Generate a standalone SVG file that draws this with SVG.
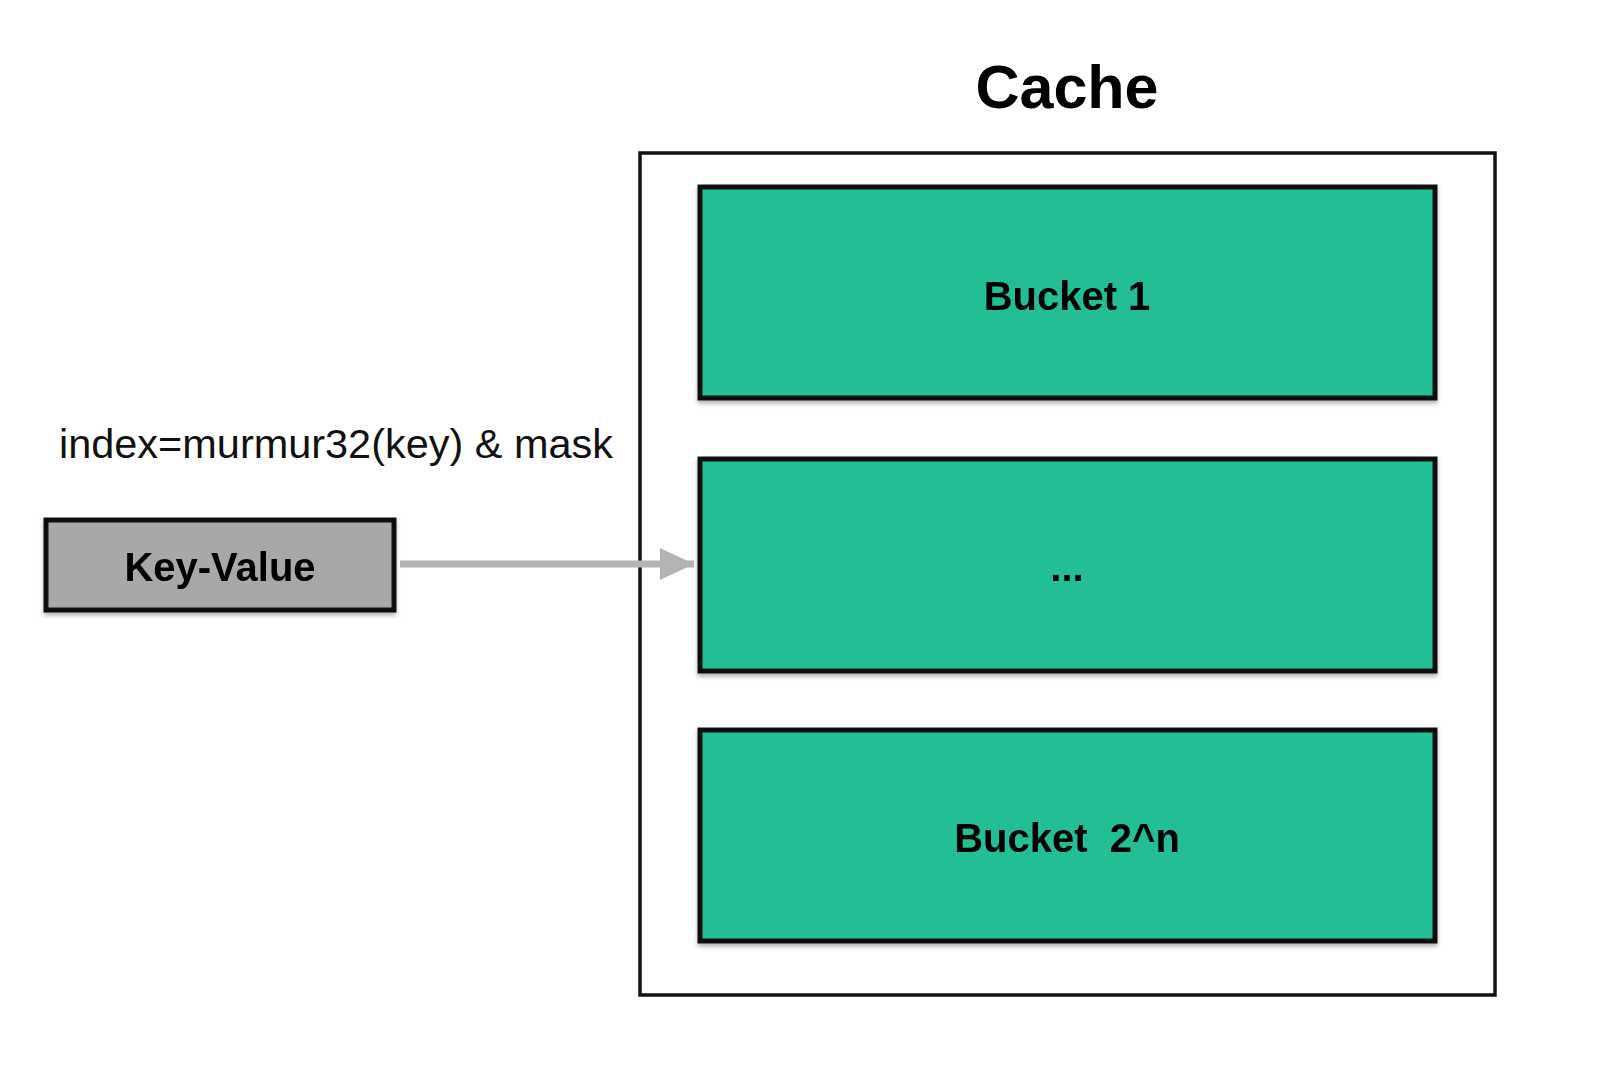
<svg xmlns="http://www.w3.org/2000/svg" width="1620" height="1068" viewBox="0 0 1620 1068">
  <style>
    .title { font-family: "Liberation Sans", Arial, sans-serif; font-weight: bold; font-size: 61px; fill: #000; }
    .lbl { font-family: "Liberation Sans", Arial, sans-serif; font-weight: bold; font-size: 40px; fill: #000; }
    .formula { font-family: "Liberation Sans", Arial, sans-serif; font-size: 40px; fill: #111; }
    .bucket { fill: #21bf97; stroke: #111; stroke-width: 5; }
    .kv { fill: #a8a8a8; stroke: #111; stroke-width: 5; }
    .outer { fill: #fff; stroke: #111; stroke-width: 3.5; }
    .conn { stroke: #b3b3b3; stroke-width: 7; fill: none; }
  </style>
  <defs>
    <filter id="shadow" x="-5%" y="-5%" width="110%" height="115%">
      <feDropShadow dx="0" dy="3" stdDeviation="2" flood-color="#000" flood-opacity="0.3"/>
    </filter>
    <marker id="arrow" markerUnits="userSpaceOnUse" markerWidth="40" markerHeight="40" refX="36" refY="18" orient="auto">
      <path d="M2,2 L36,18 L2,34 Z" fill="#b3b3b3"/>
    </marker>
  </defs>
  <rect width="1620" height="1068" fill="#fff"/>

  <g id="title">
    <text class="title" x="1067" y="108" text-anchor="middle">Cache</text>
  </g>

  <g id="cache">
    <rect class="outer" x="640" y="153" width="855" height="842"/>
  </g>

  <g id="bucket-1" filter="url(#shadow)">
    <rect class="bucket" x="700" y="187" width="735" height="211"/>
    <text class="lbl" x="1067" y="310" text-anchor="middle">Bucket 1</text>
  </g>

  <g id="bucket-mid" filter="url(#shadow)">
    <rect class="bucket" x="700" y="459" width="735" height="212"/>
    <text class="lbl" x="1067" y="581" text-anchor="middle">...</text>
  </g>

  <g id="bucket-2n" filter="url(#shadow)">
    <rect class="bucket" x="700" y="730" width="735" height="211"/>
    <text class="lbl" x="1067" y="852" text-anchor="middle" xml:space="preserve">Bucket  2^n</text>
  </g>

  <g id="key-value" filter="url(#shadow)">
    <rect class="kv" x="46" y="520" width="348" height="90"/>
    <text class="lbl" x="220" y="581" text-anchor="middle">Key-Value</text>
  </g>

  <g id="formula">
    <text class="formula" x="59" y="458" textLength="554" lengthAdjust="spacingAndGlyphs">index=murmur32(key) &amp; mask</text>
  </g>

  <g id="connectors">
    <line class="conn" x1="400" y1="564" x2="694" y2="564" marker-end="url(#arrow)"/>
  </g>
</svg>
